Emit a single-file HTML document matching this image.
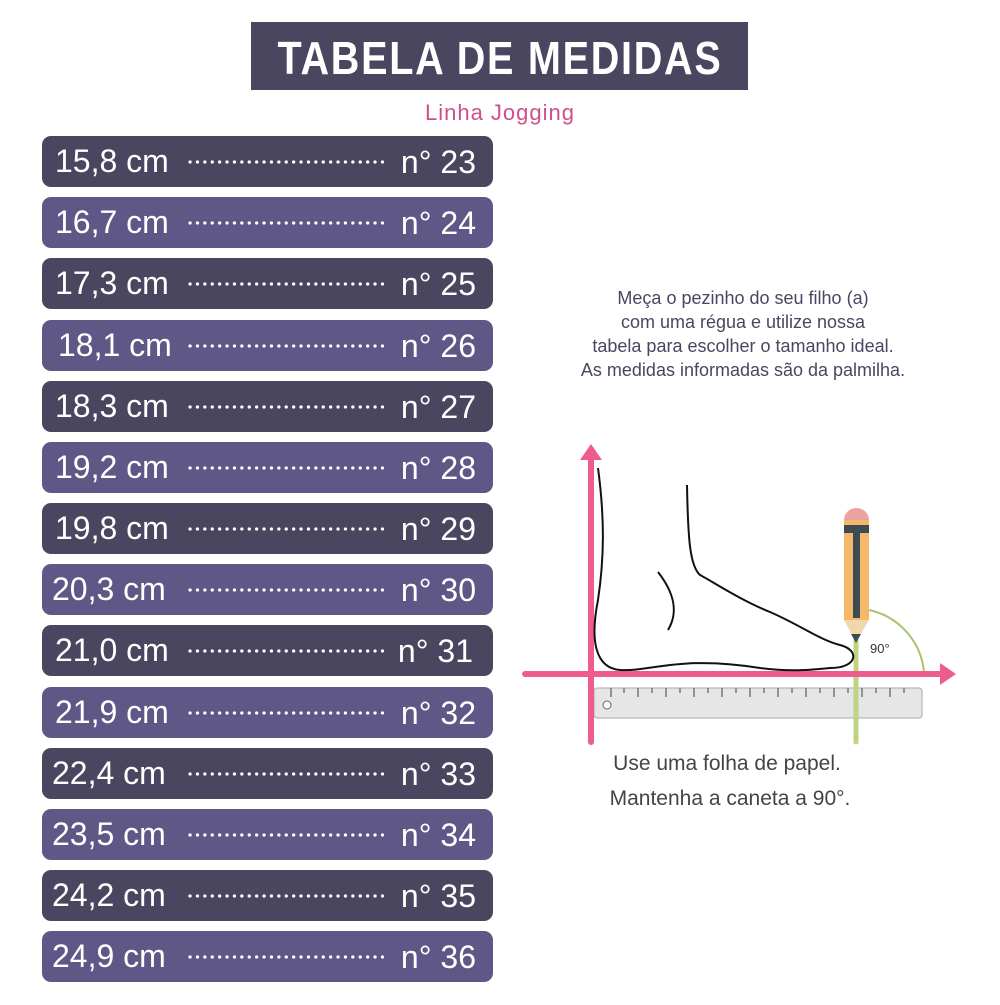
<!DOCTYPE html>
<html><head><meta charset="utf-8"><style>
body{margin:0;background:#fff;width:1000px;height:1000px;overflow:hidden;font-family:"Liberation Sans","DejaVu Sans",sans-serif}
</style></head><body>
<svg width="1000" height="1000" viewBox="0 0 1000 1000" xmlns="http://www.w3.org/2000/svg" font-family="Liberation Sans, DejaVu Sans, sans-serif">
<rect x="251" y="22" width="497" height="68" fill="#4a4660"/>
<text x="500" y="74" text-anchor="middle" fill="#fff" font-size="46" font-weight="bold" letter-spacing="2" textLength="445" lengthAdjust="spacingAndGlyphs">TABELA DE MEDIDAS</text>
<text x="500" y="120" text-anchor="middle" fill="#cf4f8a" font-size="22" letter-spacing="1">Linha Jogging</text>
<g font-size="32" fill="#fff">
<rect x="42" y="136" width="451" height="51" rx="9" fill="#4a4660"/><text x="55" y="172">15,8 cm</text><text x="476" y="173" text-anchor="end">n° 23</text>
<rect x="42" y="197" width="451" height="51" rx="9" fill="#5f5887"/><text x="55" y="233">16,7 cm</text><text x="476" y="234" text-anchor="end">n° 24</text>
<rect x="42" y="258" width="451" height="51" rx="9" fill="#4a4660"/><text x="55" y="294">17,3 cm</text><text x="476" y="295" text-anchor="end">n° 25</text>
<rect x="42" y="320" width="451" height="51" rx="9" fill="#5f5887"/><text x="58" y="356">18,1 cm</text><text x="476" y="357" text-anchor="end">n° 26</text>
<rect x="42" y="381" width="451" height="51" rx="9" fill="#4a4660"/><text x="55" y="417">18,3 cm</text><text x="476" y="418" text-anchor="end">n° 27</text>
<rect x="42" y="442" width="451" height="51" rx="9" fill="#5f5887"/><text x="55" y="478">19,2 cm</text><text x="476" y="479" text-anchor="end">n° 28</text>
<rect x="42" y="503" width="451" height="51" rx="9" fill="#4a4660"/><text x="55" y="539">19,8 cm</text><text x="476" y="540" text-anchor="end">n° 29</text>
<rect x="42" y="564" width="451" height="51" rx="9" fill="#5f5887"/><text x="52" y="600">20,3 cm</text><text x="476" y="601" text-anchor="end">n° 30</text>
<rect x="42" y="625" width="451" height="51" rx="9" fill="#4a4660"/><text x="55" y="661">21,0 cm</text><text x="473" y="662" text-anchor="end">n° 31</text>
<rect x="42" y="687" width="451" height="51" rx="9" fill="#5f5887"/><text x="55" y="723">21,9 cm</text><text x="476" y="724" text-anchor="end">n° 32</text>
<rect x="42" y="748" width="451" height="51" rx="9" fill="#4a4660"/><text x="52" y="784">22,4 cm</text><text x="476" y="785" text-anchor="end">n° 33</text>
<rect x="42" y="809" width="451" height="51" rx="9" fill="#5f5887"/><text x="52" y="845">23,5 cm</text><text x="476" y="846" text-anchor="end">n° 34</text>
<rect x="42" y="870" width="451" height="51" rx="9" fill="#4a4660"/><text x="52" y="906">24,2 cm</text><text x="476" y="907" text-anchor="end">n° 35</text>
<rect x="42" y="931" width="451" height="51" rx="9" fill="#5f5887"/><text x="52" y="967">24,9 cm</text><text x="476" y="968" text-anchor="end">n° 36</text>
</g>
<g stroke="#fff" stroke-width="3.2" stroke-dasharray="0.1 7.3" stroke-linecap="round">
<line x1="190" y1="162" x2="385" y2="162"/><line x1="190" y1="223" x2="385" y2="223"/><line x1="190" y1="284" x2="385" y2="284"/><line x1="190" y1="346" x2="385" y2="346"/><line x1="190" y1="407" x2="385" y2="407"/><line x1="190" y1="468" x2="385" y2="468"/><line x1="190" y1="529" x2="385" y2="529"/><line x1="190" y1="590" x2="385" y2="590"/><line x1="190" y1="651" x2="385" y2="651"/><line x1="190" y1="713" x2="385" y2="713"/><line x1="190" y1="774" x2="385" y2="774"/><line x1="190" y1="835" x2="385" y2="835"/><line x1="190" y1="896" x2="385" y2="896"/><line x1="190" y1="957" x2="385" y2="957"/>
</g>
<g font-size="18" fill="#4a4660" text-anchor="middle">
<text x="743" y="304">Meça o pezinho do seu filho (a)</text>
<text x="743" y="328">com uma régua e utilize nossa</text>
<text x="743" y="352">tabela para escolher o tamanho ideal.</text>
<text x="743" y="376">As medidas informadas são da palmilha.</text>
</g>
<rect x="594" y="688" width="328" height="30" rx="3" fill="#e6e6e6" stroke="#aaa"/>
<g stroke="#777" stroke-width="1.5"><path d="M611 688v9M624 688v5M638 688v9M652 688v5M666 688v9M680 688v5M694 688v9M708 688v5M722 688v9M736 688v5M750 688v9M764 688v5M778 688v9M792 688v5M806 688v9M820 688v5M834 688v9M848 688v5M862 688v9M876 688v5M890 688v9M904 688v5"/></g>
<circle cx="607" cy="705" r="4" fill="#fff" stroke="#666"/>
<path d="M869 610 A70 70 0 0 1 924 672" fill="none" stroke="#a9c46a" stroke-width="2"/>
<line x1="856" y1="640" x2="856" y2="742" stroke="#bfd382" stroke-width="5" stroke-linecap="round"/>
<g stroke="#ee5c8f" stroke-width="6" stroke-linecap="round" fill="#ee5c8f">
<line x1="591" y1="455" x2="591" y2="742"/>
<line x1="525" y1="674" x2="945" y2="674"/>
</g>
<polygon points="580,460 591,444 602,460" fill="#ee5c8f"/>
<polygon points="940,663 956,674 940,685" fill="#ee5c8f"/>
<path d="M598 468 C605 520 604 560 598 600 C590 640 595 668 620 670 C650 672 680 655 760 668 C790 672 810 670 830 668 C858 668 860 650 840 645 C820 640 800 625 770 612 C740 600 710 580 700 575 C690 566 688 540 687 485" fill="none" stroke="#111" stroke-width="2"/>
<path d="M658 572 C672 590 680 610 668 630" fill="none" stroke="#111" stroke-width="2"/>
<rect x="844" y="520" width="25" height="100" fill="#f5b86a"/>
<path d="M844 520 A12.5 12 0 0 1 869 520 Z" fill="#eba3a0"/>
<rect x="844" y="525" width="25" height="8" fill="#3d4b55"/>
<rect x="853" y="530" width="7" height="88" fill="#3d4b55"/>
<polygon points="844,620 869,620 856,642" fill="#f2d6ad"/>
<polygon points="851,634 861,634 856,643" fill="#3d4b55"/>
<text x="870" y="653" font-size="13" fill="#333">90°</text>
<g font-size="21" fill="#444" text-anchor="middle">
<text x="727" y="770">Use uma folha de papel.</text>
<text x="730" y="805">Mantenha a caneta a 90°.</text>
</g>
</svg>
</body></html>
